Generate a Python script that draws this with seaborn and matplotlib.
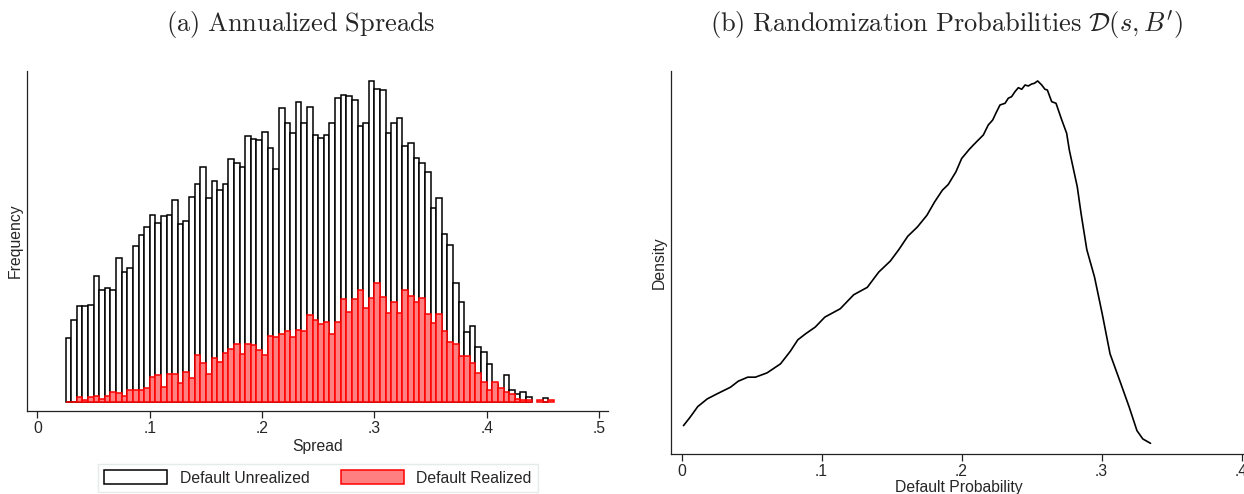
import numpy as np
import pandas as pd
import seaborn as sns
import matplotlib
matplotlib.use("Agg")
import matplotlib.pyplot as plt
from matplotlib.patches import Patch

sns.set_style("white")
plt.rcParams["font.family"] = ["Liberation Sans", "DejaVu Sans"]
plt.rcParams["mathtext.fontset"] = "cm"

# ---------------- data ----------------
bin_start = 0.025
bin_width = 0.005
# frequencies per spread bin (0.025, 0.030, ... 0.460)
unrealized = [194, 248, 290, 289, 293, 379, 337, 343, 337, 433, 391, 404, 469, 501, 526,
              562, 537, 558, 561, 607, 536, 543, 616, 655, 707, 612, 665, 636, 654, 729,
              718, 707, 800, 790, 786, 812, 764, 701, 882, 837, 808, 900, 837, 885, 803,
              794, 803, 837, 914, 923, 918, 908, 829, 837, 965, 939, 936, 808, 837, 854,
              768, 779, 732, 718, 690, 583, 612, 505, 472, 359, 301, 212, 230, 167, 151,
              115, 55, 36, 81, 37, 24, 30, 16, 0, 0, 14, 0]
realized = [2, 2, 16, 6, 15, 20, 9, 19, 31, 28, 20, 38, 38, 37, 44,
            77, 82, 45, 84, 84, 59, 91, 74, 141, 119, 84, 134, 122, 147, 159,
            176, 145, 176, 173, 156, 141, 198, 195, 205, 215, 195, 216, 213, 262, 248,
            234, 240, 205, 240, 309, 272, 309, 337, 283, 312, 359, 315, 269, 301, 269,
            337, 319, 300, 312, 265, 237, 265, 215, 182, 174, 140, 138, 119, 87, 60,
            36, 62, 42, 30, 24, 10, 7, 7, 0, 6, 2, 7]

# kernel density of randomization (default) probabilities
prob = [0.0014, 0.0061, 0.0116, 0.0184, 0.0253, 0.0350, 0.0405, 0.0473, 0.0528, 0.0611,
        0.0707, 0.0776, 0.0831, 0.0886, 0.0955, 0.1024, 0.1134, 0.1230, 0.1327, 0.1409,
        0.1492, 0.1552, 0.1616, 0.1685, 0.1753, 0.1808, 0.1863, 0.1905, 0.1960, 0.2001,
        0.2056, 0.2085, 0.2120, 0.2156, 0.2191, 0.2223, 0.2251, 0.2275, 0.2311, 0.2334,
        0.2358, 0.2382, 0.2406, 0.2430, 0.2454, 0.2477, 0.2501, 0.2520, 0.2544, 0.2573,
        0.2596, 0.2613, 0.2644, 0.2675, 0.2716, 0.2751, 0.2770, 0.2827, 0.2854, 0.2895,
        0.2950, 0.3005, 0.3061, 0.3130, 0.3198, 0.3253, 0.3295, 0.3350]
density = [0.456, 0.590, 0.762, 0.886, 0.966, 1.074, 1.170, 1.235, 1.235, 1.304,
           1.449, 1.648, 1.836, 1.932, 2.040, 2.201, 2.335, 2.560, 2.679, 2.925,
           3.103, 3.285, 3.500, 3.650, 3.838, 4.053, 4.240, 4.332, 4.536, 4.750,
           4.899, 4.968, 5.048, 5.129, 5.289, 5.370, 5.504, 5.611, 5.638, 5.719,
           5.745, 5.825, 5.889, 5.863, 5.932, 5.916, 5.948, 5.959, 5.997, 5.932,
           5.863, 5.852, 5.664, 5.638, 5.370, 5.156, 4.887, 4.294, 3.865, 3.285,
           2.845, 2.254, 1.610, 1.181, 0.752, 0.376, 0.242, 0.172]

left_ticks = [0, 0.1, 0.2, 0.3, 0.4, 0.5]
left_ticklabels = ["0", ".1", ".2", ".3", ".4", ".5"]
right_ticks = [0, 0.1, 0.2, 0.3, 0.4]
right_ticklabels = ["0", ".1", ".2", ".3", ".4"]

# ---------------- figure ----------------
W, H = 1244, 494
fig = plt.figure(figsize=(W / 100, H / 100), dpi=100)
FS = 11.3

def px_axes(x0, x1, y0, y1):
    return fig.add_axes([x0 / W, 1 - y1 / H, (x1 - x0) / W, (y1 - y0) / H])

ax1 = px_axes(27, 608, 71, 411)
ax2 = px_axes(671, 1246, 71, 454)

nb = len(unrealized)
edges = (bin_start + bin_width * np.arange(nb + 1)).tolist()
centers = [(edges[i] + edges[i + 1]) / 2 for i in range(nb)]
df = pd.DataFrame({"spread": centers, "unrealized": unrealized, "realized": realized})

sns.histplot(data=df, x="spread", weights="unrealized", bins=edges, ax=ax1,
             color="white", edgecolor="black", linewidth=1.1, alpha=1)
sns.histplot(data=df, x="spread", weights="realized", bins=edges, ax=ax1,
             color="#ff8080", edgecolor="#ff0000", linewidth=1.1, alpha=1)
for p in ax1.patches:
    if p.get_height() <= 0:
        p.set_visible(False)

ax1.set_xlim(-0.0093, 0.508)
ax1.set_ylim(-26, 994)
ax1.set_xticks(left_ticks)
ax1.set_xticklabels(left_ticklabels)
ax1.set_yticks([])
ax1.set_xlabel("Spread", fontsize=FS, labelpad=2)
ax1.set_ylabel("Frequency", fontsize=FS, labelpad=3)

sns.lineplot(x=prob, y=density, ax=ax2, color="black", linewidth=1.2)
ax2.set_xlim(-0.0075, 0.4032)
ax2.set_ylim(0, 6.157)
ax2.set_xticks(right_ticks)
ax2.set_xticklabels(right_ticklabels)
ax2.set_yticks([])
ax2.set_xlabel("Default Probability", fontsize=FS, labelpad=1)
ax2.set_ylabel("Density", fontsize=FS, labelpad=3)

for ax in (ax1, ax2):
    sns.despine(ax=ax)
    for s in ("left", "bottom"):
        ax.spines[s].set_color("#222222")
        ax.spines[s].set_linewidth(0.9)
    ax.tick_params(axis="x", direction="out", length=5, width=0.9, color="#222222",
                   labelsize=FS, pad=2, bottom=True)

fig.text(301 / W, 1 - 25 / H, r"$\mathrm{(a)\ Annualized\ Spreads}$",
         ha="center", va="center", fontsize=19)
fig.text(946 / W, 1 - 25 / H, r"$\mathrm{(b)\ Randomization\ Probabilities}\ \mathcal{D}(s,B')$",
         ha="center", va="center", fontsize=19)

handles = [Patch(facecolor="white", edgecolor="black", linewidth=1.1),
           Patch(facecolor="#ff8080", edgecolor="#ff0000", linewidth=1.1)]
leg = fig.legend(handles, ["Default Unrealized", "Default Realized"],
                 loc="center", bbox_to_anchor=(318 / W, 1 - 478 / H), ncol=2,
                 fontsize=FS, frameon=True, fancybox=False, handlelength=4.0,
                 handleheight=1.0, handletextpad=0.8, columnspacing=2.0,
                 borderpad=0.4)
leg.get_frame().set_edgecolor("#dfe7e7")
leg.get_frame().set_linewidth(1.0)

fig.savefig("out.png", dpi=100)
